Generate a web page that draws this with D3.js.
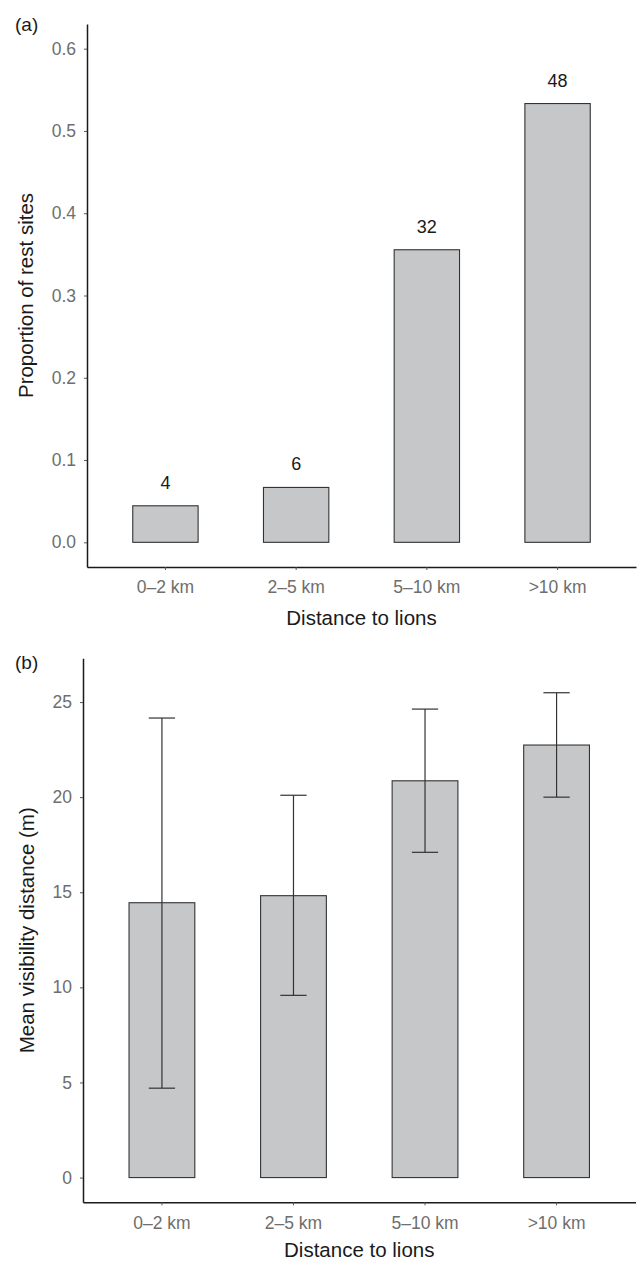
<!DOCTYPE html>
<html>
<head>
<meta charset="utf-8">
<script src="https://cdn.jsdelivr.net/npm/d3@7"></script>
<style>
  body { margin: 0; background: #fff; }
  text { font-family: "Liberation Sans", Arial, Helvetica, sans-serif; }
  .tick text { fill: #6e6e6e; font-size: 17.5px; }
  .tick line { stroke: #555; stroke-width: 1; }
  .domain { stroke: #1a1a1a; stroke-width: 1.5; }
  .axis-title { fill: #1a1a1a; font-size: 20.5px; }
  .panel-tag { fill: #1a1a1a; font-size: 19px; }
  .bar { fill: #c6c7c9; stroke: #333; stroke-width: 1.1; }
  .count-label { fill: #1a1a1a; font-size: 18px; }
  .errbar { stroke: #333; stroke-width: 1.2; fill: none; }
</style>
</head>
<body>
<div id="chart"></div>
<script>
// categories shared by both panels
var distCats = ["0\u20132 km", "2\u20135 km", "5\u201310 km", ">10 km"];

// panel (a): proportion of rest sites, with counts on top
var restCounts = [4, 6, 32, 48];
var restProp = [0.0444, 0.0667, 0.3556, 0.5333];
var propTicks = [0, 0.1, 0.2, 0.3, 0.4, 0.5, 0.6];

// panel (b): mean visibility distance with error bars
var visMean = [14.45, 14.82, 20.86, 22.74];
var visLower = [4.7, 9.58, 17.1, 20.0];
var visUpper = [24.16, 20.1, 24.63, 25.49];
var visTicks = [0, 5, 10, 15, 20, 25];

var svgWidth = 637;
var svgHeight = 1263;

var svg = d3.select("#chart")
  .append("svg")
  .attr("width", svgWidth)
  .attr("height", svgHeight);

// band scale matching ggplot's discrete expansion (0.6 units each side, bar width 0.5)
function makeX(left, right) {
  return d3.scaleBand()
    .domain(distCats)
    .range([left, right])
    .paddingInner(0.5)
    .paddingOuter(0.35);
}

function drawAxes(x, y, yTicks, yFormat, bottom, left) {
  svg.append("g")
    .attr("transform", `translate(0, ${bottom})`)
    .call(d3.axisBottom(x).tickSize(3).tickSizeOuter(0).tickPadding(11))
    .call(g => g.selectAll(".tick text").attr("dy", "0.71em"));

  svg.append("g")
    .attr("transform", `translate(${left}, 0)`)
    .call(d3.axisLeft(y).tickValues(yTicks).tickFormat(yFormat)
      .tickSize(3).tickSizeOuter(0).tickPadding(8));
}

// ========== Panel (a) ==========
var xA = makeX(87, 636);
var yA = d3.scaleLinear()
  .domain([-0.03, 0.63])
  .range([567, 24]);

svg.selectAll(".barA")
  .data(restProp)
  .enter()
  .append("rect")
  .attr("class", "bar")
  .attr("x", (d, i) => xA(distCats[i]))
  .attr("width", xA.bandwidth())
  .attr("y", d => yA(d))
  .attr("height", d => yA(0) - yA(d));

svg.selectAll(".countA")
  .data(restCounts)
  .enter()
  .append("text")
  .attr("class", "count-label")
  .attr("text-anchor", "middle")
  .attr("x", (d, i) => xA(distCats[i]) + xA.bandwidth() / 2)
  .attr("y", (d, i) => yA(restProp[i]) - 17)
  .text(d => d);

drawAxes(xA, yA, propTicks, d3.format(".1f"), 567, 87);

svg.append("text")
  .attr("class", "axis-title")
  .attr("text-anchor", "middle")
  .attr("x", (87 + 636) / 2)
  .attr("y", 625)
  .text("Distance to lions");

svg.append("text")
  .attr("class", "axis-title")
  .attr("text-anchor", "middle")
  .attr("transform", `translate(33, ${(24 + 567) / 2}) rotate(-90)`)
  .text("Proportion of rest sites");

svg.append("text")
  .attr("class", "panel-tag")
  .attr("x", 15)
  .attr("y", 31)
  .text("(a)");

// ========== Panel (b) ==========
var xB = makeX(83, 635.5);
var yB = d3.scaleLinear()
  .domain([-1.3, 27.3])
  .range([1202.3, 658.3]);

svg.selectAll(".barB")
  .data(visMean)
  .enter()
  .append("rect")
  .attr("class", "bar")
  .attr("x", (d, i) => xB(distCats[i]))
  .attr("width", xB.bandwidth())
  .attr("y", d => yB(d))
  .attr("height", d => yB(0) - yB(d));

// error bars drawn on top of the bars
var capW = xB.bandwidth() * 0.4;
var errGroup = svg.selectAll(".err")
  .data(visMean)
  .enter()
  .append("g")
  .attr("transform", (d, i) => `translate(${xB(distCats[i]) + xB.bandwidth() / 2}, 0)`);

errGroup.append("line")
  .attr("class", "errbar")
  .attr("x1", 0).attr("x2", 0)
  .attr("y1", (d, i) => yB(visLower[i]))
  .attr("y2", (d, i) => yB(visUpper[i]));

errGroup.append("line")
  .attr("class", "errbar")
  .attr("x1", -capW / 2).attr("x2", capW / 2)
  .attr("y1", (d, i) => yB(visUpper[i]))
  .attr("y2", (d, i) => yB(visUpper[i]));

errGroup.append("line")
  .attr("class", "errbar")
  .attr("x1", -capW / 2).attr("x2", capW / 2)
  .attr("y1", (d, i) => yB(visLower[i]))
  .attr("y2", (d, i) => yB(visLower[i]));

drawAxes(xB, yB, visTicks, d3.format("d"), 1202.3, 83);

svg.append("text")
  .attr("class", "axis-title")
  .attr("text-anchor", "middle")
  .attr("x", (83 + 635.5) / 2)
  .attr("y", 1257)
  .text("Distance to lions");

svg.append("text")
  .attr("class", "axis-title")
  .attr("text-anchor", "middle")
  .attr("transform", `translate(34, ${(658.3 + 1202.3) / 2}) rotate(-90)`)
  .text("Mean visibility distance (m)");

svg.append("text")
  .attr("class", "panel-tag")
  .attr("x", 15)
  .attr("y", 669)
  .text("(b)");
</script>
</body>
</html>
